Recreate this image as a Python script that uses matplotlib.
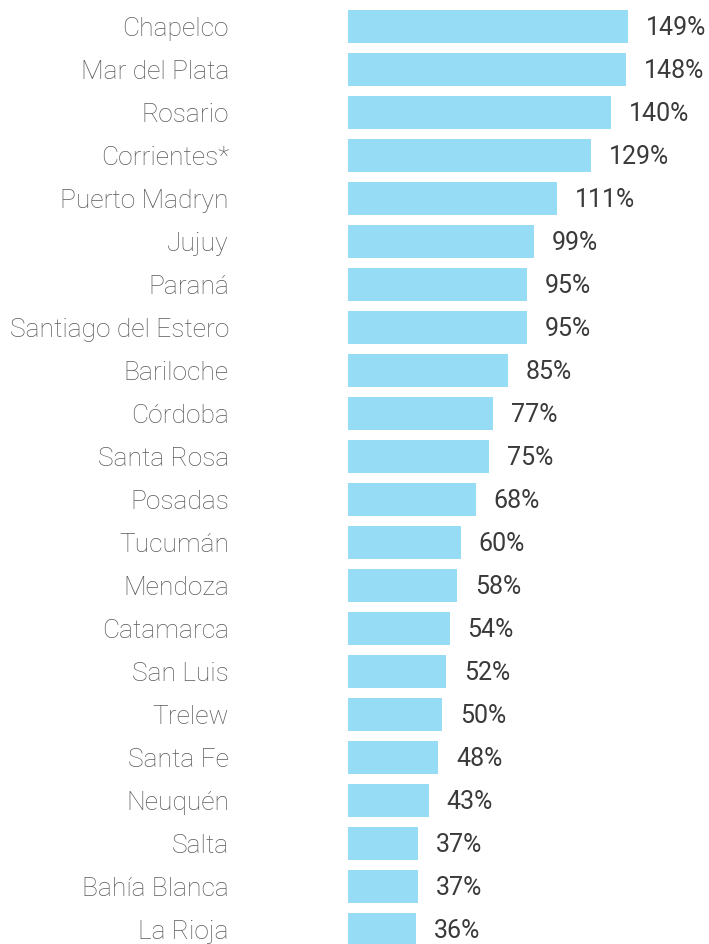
import matplotlib
matplotlib.use("Agg")
import matplotlib.pyplot as plt

cities = ["Chapelco", "Mar del Plata", "Rosario", "Corrientes*", "Puerto Madryn",
          "Jujuy", "Paraná", "Santiago del Estero", "Bariloche", "Córdoba",
          "Santa Rosa", "Posadas", "Tucumán", "Mendoza", "Catamarca", "San Luis",
          "Trelew", "Santa Fe", "Neuquén", "Salta", "Bahía Blanca", "La Rioja"]
values = [149, 148, 140, 129, 111, 99, 95, 95, 85, 77, 75, 68, 60, 58, 54, 52,
          50, 48, 43, 37, 37, 36]

W, H, DPI = 709, 944, 100
fig = plt.figure(figsize=(W / DPI, H / DPI), dpi=DPI)
left_px, right_px = 348, 705
ax = fig.add_axes([left_px / W, 0, (right_px - left_px) / W, 1])

ypos = list(range(len(cities)))
ax.barh(ypos, values, height=0.77, color="#96dcf5", edgecolor="none")

px_per_unit = 1.88
ax.set_xlim(0, (right_px - left_px) / px_per_unit)
pitch = 43.0
ax.set_ylim((H - 26.5) / pitch, -26.5 / pitch)

for y, v in zip(ypos, values):
    ax.annotate(f"{v}%", xy=(v, y), xytext=(18, -2), textcoords="offset pixels",
                ha="left", va="center", fontsize=18, color="#3a3a3a",
                family="Roboto")

ax.set_yticks(ypos)
ax.set_yticklabels(cities, fontsize=19, color="#5a5a5a", family="Roboto",
                   fontweight="light")
ax.tick_params(axis="y", length=0, pad=(left_px - 229) * 72 / DPI)
ax.set_xticks([])
for s in ax.spines.values():
    s.set_visible(False)

fig.savefig("out.png", dpi=DPI)
